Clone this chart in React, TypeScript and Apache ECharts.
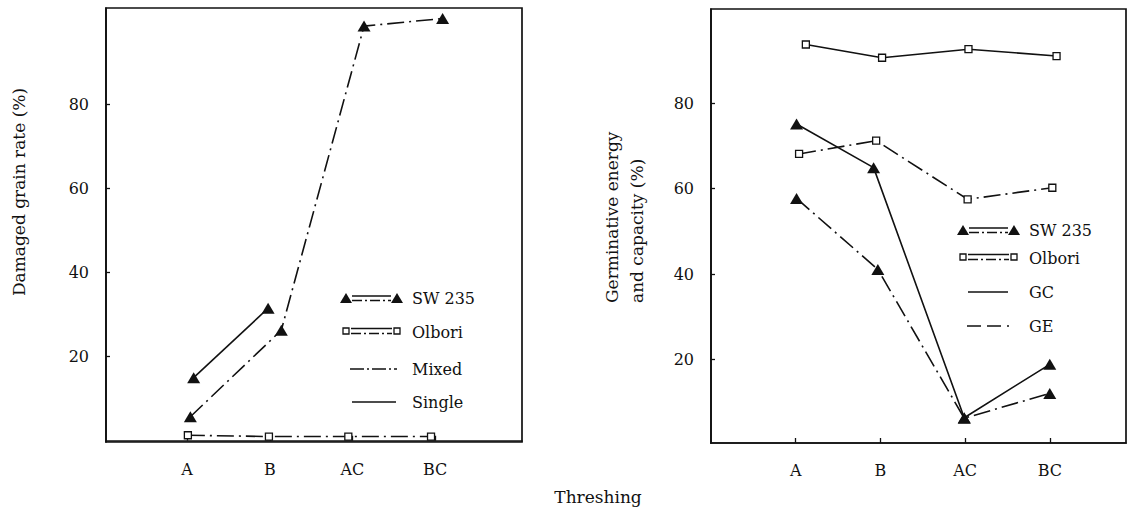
import React, { useEffect, useRef } from "react";
import * as echarts from "echarts";

// ---- data (x = category position, 1=A ... 4=BC) ----
const categories = ["A", "B", "AC", "BC"];
const categoryPositions = [1, 2, 3, 4];
const yTickValues = [20, 40, 60, 80];

// Left panel: damaged grain rate (%)
const swSingleDamaged = [[1.08, 15.0], [1.98, 31.5]];
const swMixedDamaged = [[1.04, 5.7], [2.14, 26.3], [3.14, 98.6], [4.09, 100.4]];
const olboriMixedDamaged = [[1.01, 1.3], [1.99, 1.0], [2.95, 1.0], [3.95, 1.0]];

// Right panel: germinative energy (GE) and capacity (GC) (%)
const olboriGC = [[1.12, 93.7], [2.02, 90.6], [3.04, 92.6], [4.08, 91.0]];
const olboriGE = [[1.04, 68.1], [1.95, 71.2], [3.03, 57.5], [4.03, 60.2]];
const swGC = [[1.01, 75.1], [1.92, 64.9], [2.99, 6.4], [4.0, 18.9]];
const swGE = [[1.01, 57.7], [1.97, 41.1], [2.99, 6.3], [4.0, 12.1]];

const leftLegendLabels = ["SW 235", "Olbori", "Mixed", "Single"];
const rightLegendLabels = ["SW 235", "Olbori", "GC", "GE"];

const FONT = "DejaVu Serif";
const INK = "#111";
const DASH_DOT = [17, 5, 2, 5];

function triangle(cx: number, cy: number, w: number, h: number) {
  return {
    type: "polygon",
    shape: { points: [[cx - w / 2, cy + h / 2], [cx + w / 2, cy + h / 2], [cx, cy - h / 2]] },
    style: { fill: INK },
    silent: true,
  };
}
function square(cx: number, cy: number, s: number) {
  return {
    type: "rect",
    shape: { x: cx - s / 2, y: cy - s / 2, width: s, height: s },
    style: { fill: "#fff", stroke: INK, lineWidth: 1.3 },
    silent: true,
  };
}
function seg(x1: number, y1: number, x2: number, y2: number, dash?: number[]) {
  return {
    type: "line",
    shape: { x1, y1, x2, y2 },
    style: { stroke: INK, lineWidth: 1.6, lineDash: dash || null },
    silent: true,
  };
}
function label(x: number, y: number, text: string, size = 16) {
  return {
    type: "text",
    x,
    y,
    style: { text, fill: INK, font: `${size}px "${FONT}"`, align: "left", verticalAlign: "middle" },
    silent: true,
  };
}

function buildLegend(x0: number, rows: number[], labels: string[], textX: number, kind: "left" | "right") {
  const els: any[] = [];
  const y0 = rows[0];
  els.push(triangle(x0, y0, 12, 10), triangle(x0 + 51, y0, 12, 10));
  els.push(seg(x0 + 6, y0 - 2, x0 + 45, y0 - 2), seg(x0 + 6, y0 + 2.5, x0 + 45, y0 + 2.5, [10, 3, 2, 3]));
  const y1 = rows[1];
  els.push(square(x0, y1, 6), square(x0 + 51, y1, 6));
  els.push(seg(x0 + 5, y1 - 2.5, x0 + 46, y1 - 2.5), seg(x0 + 5, y1 + 2.5, x0 + 46, y1 + 2.5, [10, 3, 2, 3]));
  if (kind === "left") {
    els.push(seg(x0 + 4, rows[2], x0 + 51, rows[2], [14, 3, 2, 3]));
    els.push(seg(x0 + 6, rows[3], x0 + 50, rows[3]));
  } else {
    els.push(seg(x0 + 5, rows[2], x0 + 45, rows[2]));
    els.push(seg(x0 + 4, rows[3], x0 + 46, rows[3], [14, 6]));
  }
  labels.forEach((t, i) => els.push(label(textX, rows[i] + (i === 1 ? 1 : 0), t)));
  return els;
}

export default function App() {
  const ref = useRef<HTMLDivElement>(null);
  useEffect(() => {
    if (!ref.current) return;
    const chart = echarts.init(ref.current, null, { renderer: "svg" });

    const xAxisCommon = (min: number, max: number, gridIndex: number) => ({
      type: "value",
      gridIndex,
      min,
      max,
      splitLine: { show: false },
      axisLine: { show: true, lineStyle: { color: INK, width: 1.7 } },
      axisTick: { show: true, inside: true, length: 5, customValues: categoryPositions, lineStyle: { color: INK, width: 1.3 } },
      axisLabel: {
        customValues: categoryPositions,
        formatter: (v: number) => categories[Math.round(v) - 1] || "",
        color: INK,
        fontFamily: FONT,
        fontSize: 16,
        margin: 19,
      },
    });
    const yAxisCommon = (min: number, max: number, gridIndex: number) => ({
      type: "value",
      gridIndex,
      min,
      max,
      splitLine: { show: false },
      axisLine: { show: true, lineStyle: { color: INK, width: 1.7 } },
      axisTick: { show: true, inside: true, length: 4, customValues: yTickValues, lineStyle: { color: INK, width: 1.3 } },
      axisLabel: { customValues: yTickValues, color: INK, fontFamily: FONT, fontSize: 16, margin: 17 },
    });

    const triSeries = (data: number[][], dash: any, xi: number) => ({
      type: "line",
      xAxisIndex: xi,
      yAxisIndex: xi,
      data,
      symbol: "triangle",
      symbolSize: [13, 11],
      itemStyle: { color: INK },
      lineStyle: { color: INK, width: 1.6, type: dash },
      z: 3,
    });
    const sqSeries = (data: number[][], dash: any, xi: number) => ({
      type: "line",
      xAxisIndex: xi,
      yAxisIndex: xi,
      data,
      symbol: "rect",
      symbolSize: 7,
      showAllSymbol: true,
      itemStyle: { color: "#fff", borderColor: INK, borderWidth: 1.3 },
      lineStyle: { color: INK, width: 1.6, type: dash },
      z: 3,
    });

    const graphics: any[] = [
      ...buildLegend(346, [298, 331, 369, 402], leftLegendLabels, 412, "left"),
      ...buildLegend(963, [230, 257, 292, 326], rightLegendLabels, 1029, "right"),
      {
        type: "text",
        x: 598,
        y: 497,
        style: { text: "Threshing", fill: INK, font: `17px "${FONT}"`, align: "center", verticalAlign: "middle" },
      },
      {
        type: "text",
        x: 19,
        y: 192,
        rotation: Math.PI / 2,
        style: { text: "Damaged grain rate (%)", fill: INK, font: `17px "${FONT}"`, align: "center", verticalAlign: "middle" },
      },
      {
        type: "text",
        x: 612,
        y: 303,
        rotation: Math.PI / 2,
        style: { text: "Germinative energy", fill: INK, font: `17px "${FONT}"`, align: "left", verticalAlign: "middle" },
      },
      {
        type: "text",
        x: 637,
        y: 303,
        rotation: Math.PI / 2,
        style: { text: "and capacity (%)", fill: INK, font: `17px "${FONT}"`, align: "left", verticalAlign: "middle" },
      },
    ];

    chart.setOption({
      animation: false,
      backgroundColor: "#fff",
      grid: [
        { left: 106, top: 8, width: 416, height: 434, show: true, borderColor: INK, borderWidth: 1.7, backgroundColor: "transparent" },
        { left: 711, top: 9, width: 415, height: 434, show: true, borderColor: INK, borderWidth: 1.7, backgroundColor: "transparent" },
      ],
      xAxis: [xAxisCommon(0.02, 5.05, 0), xAxisCommon(0, 4.9, 1)],
      yAxis: [yAxisCommon(-0.3, 102.9, 0), yAxisCommon(0.5, 102, 1)],
      series: [
        triSeries(swSingleDamaged, "solid", 0),
        triSeries(swMixedDamaged, DASH_DOT, 0),
        sqSeries(olboriMixedDamaged, DASH_DOT, 0),
        sqSeries(olboriGC, "solid", 1),
        sqSeries(olboriGE, DASH_DOT, 1),
        triSeries(swGC, "solid", 1),
        triSeries(swGE, DASH_DOT, 1),
      ],
      graphic: graphics,
    });
    return () => chart.dispose();
  }, []);

  return (
    <div
      ref={ref}
      style={{ position: "fixed", left: 0, top: 0, width: 1128, height: 508, background: "#fff" }}
    />
  );
}
